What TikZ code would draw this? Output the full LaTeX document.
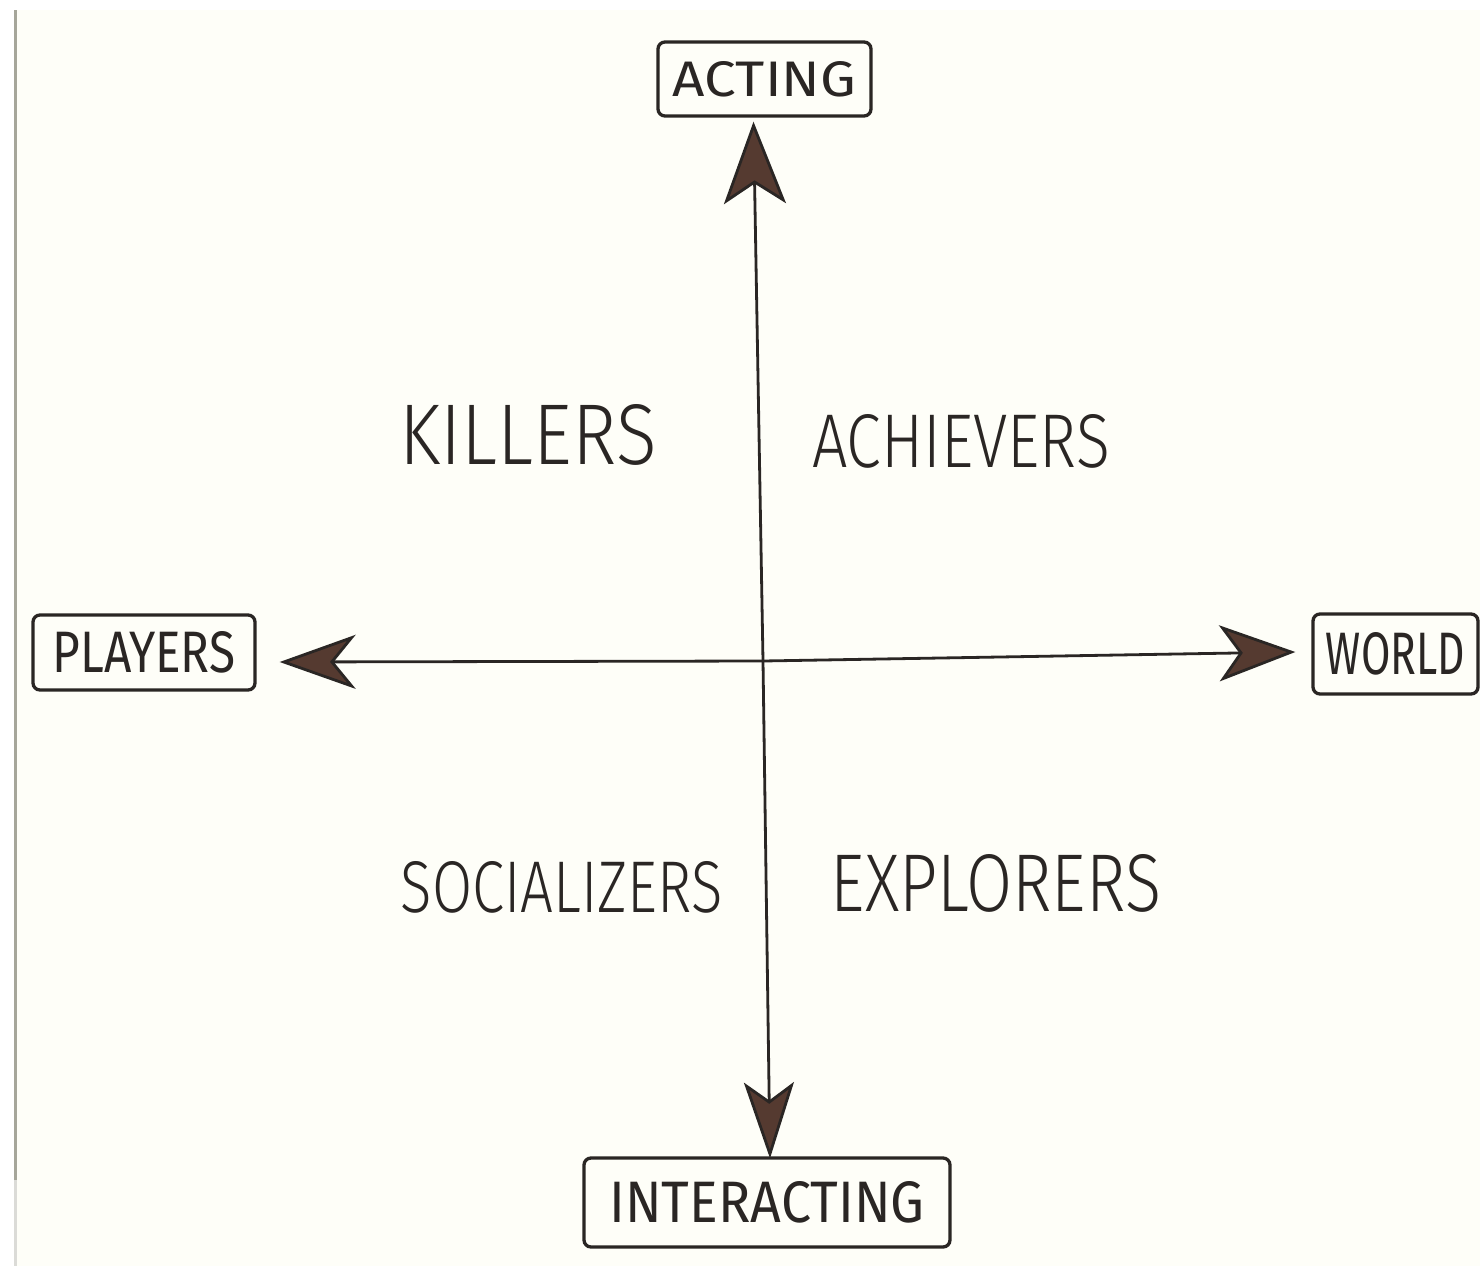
\documentclass[tikz,border=0pt]{standalone}
\usepackage{fontspec}
\setmainfont{Fira Sans}[UprightFont={* Light}]
\newfontfamily\boxfont{Fira Sans}
\usetikzlibrary{arrows.meta}
\definecolor{paper}{HTML}{FEFEF8}
\definecolor{ink}{HTML}{2A2624}
\definecolor{tipfill}{HTML}{553A30}
\definecolor{paperedge}{HTML}{A6A69A}
% label stretched to an exact width and cap height (in pt)
\newcommand{\lbl}[3]{\resizebox{#1pt}{#2pt}{#3}}

\begin{document}
\begin{tikzpicture}[x=1pt,y=-1pt,
  box/.style={draw=ink, line width=3.3pt, rounded corners=7pt, inner sep=0pt, text=ink, font=\boxfont},
  quad/.style={inner sep=0pt, text=ink},
  axis/.style={draw=ink, line width=2.8pt},
]
\useasboundingbox (0,0) rectangle (1480,1266);
% sheet of paper with its left edge
\fill[white] (0,0) rectangle (1480,1266);
\fill[paper] (17,10) rectangle (1480,1266);
\fill[paperedge] (14,10) rectangle (17,1180);
\fill[paperedge!40] (14,1180) rectangle (17,1266);

% end boxes
\node[box, minimum width=213pt, minimum height=74pt] (acting) at (764.5,79) {\lbl{183}{35}{ACTING}};
\node[box, minimum width=222pt, minimum height=75pt] (players) at (144,652.5) {\lbl{183}{41}{PLAYERS}};
\node[box, minimum width=165pt, minimum height=80pt] (world) at (1395.5,654) {\lbl{139}{42}{WORLD}};
\node[box, minimum width=366pt, minimum height=89pt] (interacting) at (767,1202.5) {\lbl{315}{41}{INTERACTING}};

% quadrant labels
\node[quad] (killers) at (528,435) {\lbl{257}{60}{KILLERS}};
\node[quad] (achievers) at (961,441) {\lbl{298}{53}{ACHIEVERS}};
\node[quad] (socializers) at (562,887) {\lbl{322}{51}{SOCIALIZERS}};
\node[quad] (explorers) at (996,883) {\lbl{330}{57}{EXPLORERS}};

% axes
\coordinate (cross) at (763,661);
\draw[axis, {Stealth[length=82pt, width=62pt, inset=20pt, fill=tipfill]}-{Stealth[length=76pt, width=50pt, inset=18pt, fill=tipfill]}]
  ([xshift=-11pt,yshift=-4pt]acting.south) -- (cross) -- ([xshift=3pt,yshift=-2pt]interacting.north);
\draw[axis, {Stealth[length=76pt, width=54pt, inset=22pt, fill=tipfill]}-{Stealth[length=76pt, width=56pt, inset=20pt, fill=tipfill]}]
  ([xshift=23pt,yshift=-9.5pt]players.east) -- (cross) -- ([xshift=-16pt,yshift=2pt]world.west);
\end{tikzpicture}
\end{document}
